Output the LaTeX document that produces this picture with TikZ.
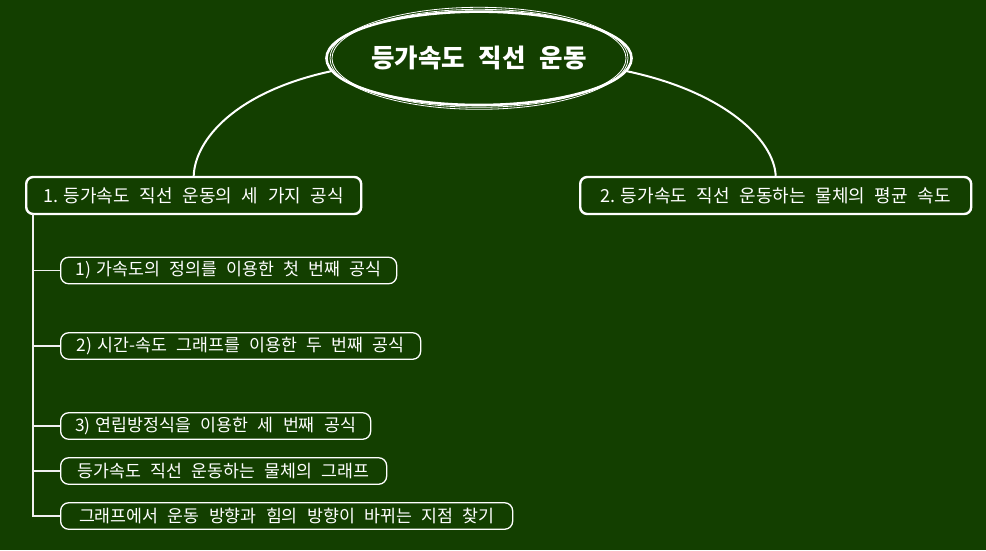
\documentclass[tikz,border=0pt]{standalone}
\usepackage{fontspec}
\setmainfont[WordSpace=2.4]{Noto Sans CJK KR}
\usetikzlibrary{shapes.geometric}
\definecolor{bg}{RGB}{19,63,0}
\newcommand{\numgap}{\hspace{0.3em}}
\tikzset{
  rootnode/.style={ellipse, draw=white, line width=2.6pt, text=white, inner sep=0pt,
    minimum width=289pt, minimum height=93.4pt, font=\fontsize{25.5}{30}\selectfont\bfseries},
  topicbox/.style={draw=white, line width=2.4pt, rounded corners=7pt, text=white,
    font=\fontsize{18}{21}\selectfont, minimum height=37pt, inner sep=0pt, anchor=west},
  leafbox/.style={draw=white, line width=1.3pt, rounded corners=8pt, text=white,
    font=\fontsize{17.3}{20}\selectfont, minimum height=26.5pt, inner sep=0pt, anchor=west},
  mainlink/.style={draw=white, line width=2pt},
  leaflink/.style={draw=white!88!gray, line width=1.3pt}
}
\begin{document}
\begin{tikzpicture}[x=1pt,y=-1pt]
\fill[bg] (0,0) rectangle (986,550);
\useasboundingbox (0,0) rectangle (986,550);

\node[rootnode] (root) at (479,58.3) {등가속도 직선 운동};
\draw[white, line width=0.8pt] (root.center) ellipse [x radius=149pt, y radius=51pt];
\draw[white, line width=0.8pt] (root.center) ellipse [x radius=147pt, y radius=49pt];

\node[topicbox, minimum width=335pt] (t1) at (25,195.5) {1.\numgap 등가속도 직선 운동의 세 가지 공식};
\node[topicbox, minimum width=391pt] (t2) at (579,195.5) {2.\numgap 등가속도 직선 운동하는 물체의 평균 속도};

\draw[mainlink] (root.185) .. controls (235,92) and (195,140) .. (t1.north);
\draw[mainlink] (root.355) .. controls (725,92) and (774,140) .. (t2.north);

\node[leafbox, minimum width=336pt] (l1) at (60,270.5) {1)\numgap 가속도의 정의를 이용한 첫 번째 공식};
\node[leafbox, minimum width=360pt] (l2) at (60,346) {2)\numgap 시간-속도 그래프를 이용한 두 번째 공식};
\node[leafbox, minimum width=310pt] (l3) at (60,426) {3)\numgap 연립방정식을 이용한 세 번째 공식};
\node[leafbox, minimum width=326pt] (l4) at (60,471) {등가속도 직선 운동하는 물체의 그래프};
\node[leafbox, minimum width=452pt] (l5) at (60,516) {그래프에서 운동 방향과 힘의 방향이 바뀌는 지점 찾기};

\coordinate (spine) at (33,214);
\draw[leaflink] (spine) |- (l5.west);
\draw[leaflink] (spine |- l1.west) -- (l1.west);
\draw[leaflink] (spine |- l2.west) -- (l2.west);
\draw[leaflink] (spine |- l3.west) -- (l3.west);
\draw[leaflink] (spine |- l4.west) -- (l4.west);
\end{tikzpicture}
\end{document}
